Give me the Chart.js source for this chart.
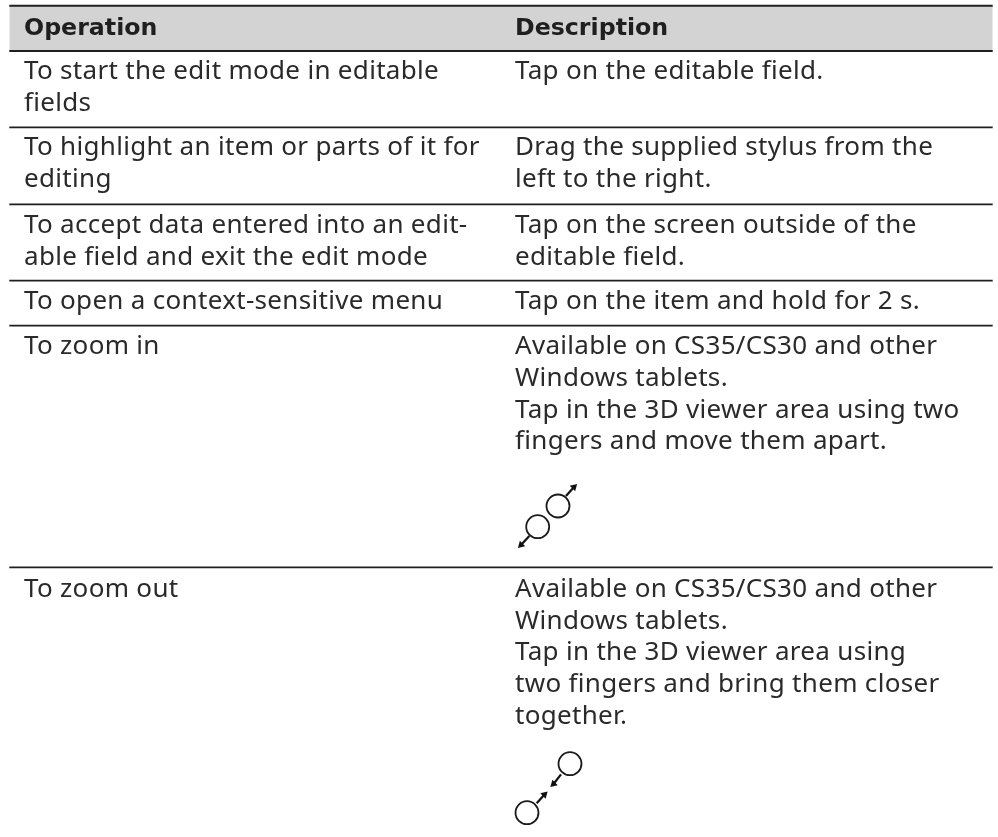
<!DOCTYPE html>
<html><head><meta charset="utf-8">
<style>html,body{margin:0;padding:0;background:#fff;overflow:hidden}#w{width:998px;height:837px;position:relative}canvas{display:block}</style>
<script src="https://cdn.jsdelivr.net/npm/chart.js@4/dist/chart.umd.min.js"></script>
</head><body><div id="w"><canvas id="c" width="998" height="837"></canvas></div>
<script>
const headers = ["Operation", "Description"];
const operationRows = [
  ["To start the edit mode in editable", "fields"],
  ["To highlight an item or parts of it for", "editing"],
  ["To accept data entered into an edit-", "able field and exit the edit mode"],
  ["To open a context-sensitive menu"],
  ["To zoom in"],
  ["To zoom out"]
];
const descriptionRows = [
  ["Tap on the editable field."],
  ["Drag the supplied stylus from the", "left to the right."],
  ["Tap on the screen outside of the", "editable field."],
  ["Tap on the item and hold for 2 s."],
  ["Available on CS35/CS30 and other", "Windows tablets.", "Tap in the 3D viewer area using two", "fingers and move them apart."],
  ["Available on CS35/CS30 and other", "Windows tablets.", "Tap in the 3D viewer area using", "two fingers and bring them closer", "together."]
];
// row rules, on the page-scale y axis
const ruleYs = [5.8, 51, 127.3, 204.3, 280.7, 325.7, 567.3];
const heavyRule = [true, true, false, false, false, false, false];
const firstBaselines = [79.3, 155, 232.7, 309.3, 354, 596.7];
const lineStep = 31.8;
const circlesX = [558, 537.7, 570, 527];
const circlesY = [506, 526.7, 763.7, 812.7];
const shaftsX = [[566, 574], [529.3, 521], [561, 553.5], [536.7, 544.5]];
const shaftsY = [[496, 487], [536, 545], [774.3, 784], [803.3, 794.5]];
const headsX = [574, 521, 553.5, 544.5];
const headsY = [487, 545, 784, 794.5];
const headsRot = [45, 225, 225, 45];

const ink = '#2a2a2a';
const datasets = [];
const line = (pts, color, w, extra) => Object.assign({type:'line', data:pts, borderColor:color, borderWidth:w, pointRadius:0, fill:false, tension:0, order:1}, extra||{});
datasets.push(line([{x:9.3,y:ruleYs[0]},{x:992.7,y:ruleYs[0]}], 'rgba(0,0,0,0)', 0, {fill:'+1', backgroundColor:'#d3d3d3', order:5}));
datasets.push(line([{x:9.3,y:ruleYs[1]},{x:992.7,y:ruleYs[1]}], 'rgba(0,0,0,0)', 0, {order:5}));
ruleYs.forEach((y,i)=>datasets.push(line([{x:9.3,y},{x:992.7,y}], '#1f1f1f', heavyRule[i]?2:1.7)));
shaftsX.forEach((xs,i)=>datasets.push(line(xs.map((x,j)=>({x,y:shaftsY[i][j]})), '#111', 2.2)));
datasets.push({type:'scatter', data:circlesX.map((x,i)=>({x,y:circlesY[i]})), pointStyle:'circle', pointRadius:11.5, pointBorderWidth:1.8, pointBorderColor:'#1a1a1a', pointBackgroundColor:'rgba(0,0,0,0)', showLine:false, order:1});
datasets.push({type:'scatter', data:headsX.map((x,i)=>({x,y:headsY[i]})), pointStyle:'triangle', pointRadius:4.4, pointRotation:headsRot, pointBorderWidth:0, pointBackgroundColor:'#111', showLine:false, order:1});

const tablePlugin = {
  id:'tableText',
  afterDatasetsDraw(chart){
    const {ctx, scales:{x,y}} = chart;
    ctx.save();
    ctx.textBaseline='alphabetic'; ctx.textAlign='left';
    ctx.fillStyle='#1f1f1f';
    ctx.font='bold 23.7px "DejaVu Sans"';
    ctx.fillText(headers[0], x.getPixelForValue(24), y.getPixelForValue(35));
    ctx.fillText(headers[1], x.getPixelForValue(515), y.getPixelForValue(35));
    ctx.font='26px "Noto Sans"';
    ctx.letterSpacing='0.31px';
    ctx.fillStyle=ink;
    operationRows.forEach((rows,r)=>rows.forEach((t,i)=>ctx.fillText(t, x.getPixelForValue(24), y.getPixelForValue(firstBaselines[r]+i*lineStep))));
    descriptionRows.forEach((rows,r)=>rows.forEach((t,i)=>ctx.fillText(t, x.getPixelForValue(515), y.getPixelForValue(firstBaselines[r]+i*lineStep))));
    ctx.restore();
  }
};
new Chart(document.getElementById('c'), {
  type:'scatter',
  data:{datasets},
  options:{
    responsive:false, animation:false, events:[],
    layout:{padding:0, autoPadding:false},
    plugins:{legend:{display:false}, tooltip:{enabled:false}},
    scales:{
      x:{type:'linear', min:0, max:998, display:false},
      y:{type:'linear', min:0, max:837, reverse:true, display:false}
    }
  },
  plugins:[tablePlugin]
});
</script></body></html>
